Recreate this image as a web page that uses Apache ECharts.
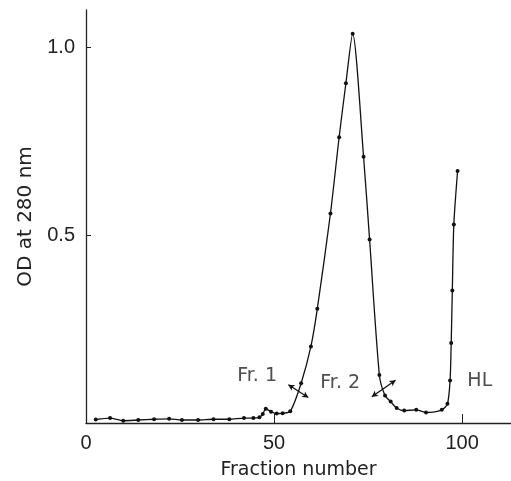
<!DOCTYPE html>
<html>
<head>
<meta charset="utf-8">
<style>html,body{margin:0;padding:0;background:#fff;}#chart{width:511px;height:481px;}</style>
<script src="https://cdn.jsdelivr.net/npm/echarts@6/dist/echarts.min.js"></script>
</head>
<body>
<div id="chart"></div>
<script>
// Fraction numbers and OD readings
const fractions = [2.6, 6.4, 9.9, 13.9, 18.1, 22.1, 25.5, 29.8, 33.9, 38.1, 42, 44.5, 46.1, 47, 47.8, 49.2, 50.7, 52.3, 54.3, 57.2, 59.8, 61.5, 65.0, 67.3, 69.1, 70.9, 73.8, 75.4, 78.0, 79.5, 81.0, 82.6, 84.6, 87.8, 90.4, 94.6, 96.1, 96.8, 97.1, 97.4, 97.8, 98.8];
const od = [0.009, 0.013, 0.006, 0.008, 0.010, 0.011, 0.008, 0.008, 0.010, 0.010, 0.013, 0.013, 0.015, 0.024, 0.038, 0.030, 0.025, 0.026, 0.031, 0.106, 0.204, 0.304, 0.558, 0.761, 0.905, 1.037, 0.709, 0.489, 0.128, 0.073, 0.057, 0.040, 0.033, 0.035, 0.028, 0.035, 0.051, 0.113, 0.213, 0.353, 0.529, 0.671];
const xTickLabels = [0, 50, 100];
const xTickMarks = [50, 100];
const yTickLabels = [0.5, 1.0];
// annotation labels
const labelNames = ['Fr. 1', 'Fr. 2', 'HL'];
const labelX = [40.2, 62.3, 101.4];
const labelY = [0.126, 0.107, 0.113];
// divider marks: [[x1,y1],[x2,y2]]
const divider1 = [[53.8, 0.102], [59.1, 0.068]];
const divider2 = [[76.0, 0.070], [82.3, 0.114]];

const chart = echarts.init(document.getElementById('chart'));
const tickFont = 'Liberation Sans';
const nameFont = 'DejaVu Sans';
chart.setOption({
  animation: false,
  backgroundColor: '#fff',
  grid: {left: 86, right: 0, top: 10, bottom: 58, outerBoundsMode: 'none', containLabel: false},
  xAxis: {
    type: 'value', min: 0, max: 113,
    axisLine: {show: true, lineStyle: {color: '#222', width: 1.3}},
    axisTick: {show: true, inside: true, length: 9, customValues: xTickMarks, lineStyle: {color: '#222'}},
    axisLabel: {customValues: xTickLabels, color: '#222', fontFamily: tickFont, fontSize: 20, margin: 10},
    splitLine: {show: false},
    name: 'Fraction number', nameLocation: 'middle', nameGap: 38,
    nameTextStyle: {color: '#222', fontFamily: nameFont, fontSize: 19}
  },
  yAxis: {
    type: 'value', min: 0, max: 1.1,
    axisLine: {show: true, lineStyle: {color: '#222', width: 1.3}},
    axisTick: {show: true, inside: true, length: 5, customValues: yTickLabels, lineStyle: {color: '#222'}},
    axisLabel: {customValues: yTickLabels, color: '#222', fontFamily: tickFont, fontSize: 20, margin: 11,
      formatter: v => v.toFixed(1)},
    splitLine: {show: false},
    name: 'OD at 280 nm', nameLocation: 'middle', nameGap: 50, nameRotate: 90,
    nameTextStyle: {color: '#222', fontFamily: nameFont, fontSize: 20}
  },
  series: [
    {
      type: 'line',
      data: fractions.map((f, i) => [f, od[i]]),
      smooth: 0.25,
      symbol: 'circle', symbolSize: 4,
      itemStyle: {color: '#111'},
      lineStyle: {color: '#111', width: 1.3},
      markLine: {
        silent: true,
        symbol: ['arrow', 'arrow'], symbolSize: [5, 6],
        label: {show: false},
        lineStyle: {color: '#111', width: 1.3, type: 'solid'},
        data: [
          [{coord: divider1[0]}, {coord: divider1[1]}],
          [{coord: divider2[0]}, {coord: divider2[1]}]
        ]
      }
    },
    {
      type: 'scatter',
      symbolSize: 0,
      data: labelNames.map((n, i) => ({value: [labelX[i], labelY[i]], name: n})),
      label: {show: true, position: 'right', distance: 0, formatter: p => p.name,
        color: '#222', fontFamily: nameFont, fontSize: 19}
    }
  ]
});
</script>
</body>
</html>
